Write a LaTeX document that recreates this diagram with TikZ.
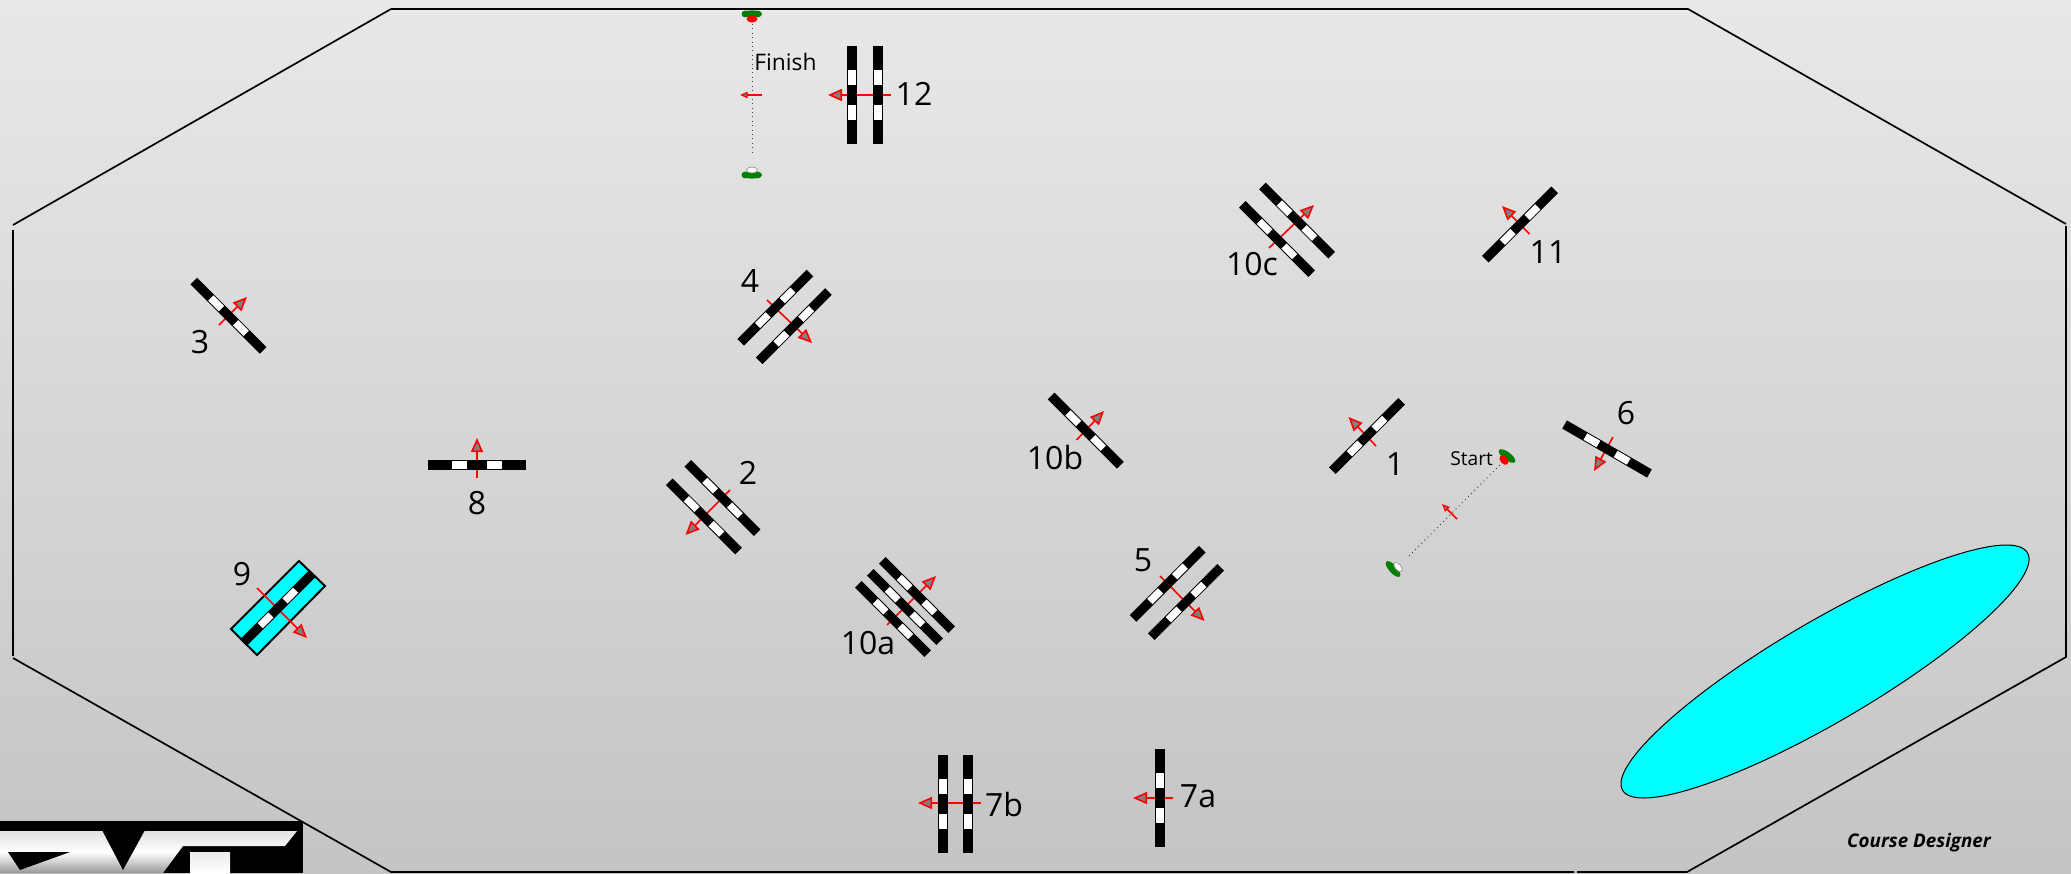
\documentclass[tikz,border=0pt]{standalone}
\usepackage{fontspec}
\setmainfont{Open Sans}
\usetikzlibrary{arrows.meta}
\definecolor{aquafill}{HTML}{00FFFF}
\definecolor{boatgreen}{HTML}{008000}
\definecolor{headgray}{HTML}{808080}
\tikzset{
  x=0.5pt,y=-0.5pt,
  course/.style={draw=black,line width=0.85pt},
  num/.style={inner sep=0pt,text=black,font=\fontsize{16}{19}\selectfont},
  dir/.style={draw=red,line width=0.8pt,-{Stealth[length=7pt,width=6pt,inset=0pt,fill=headgray,line width=0.8pt]}},
  smalldir/.style={draw=red,line width=0.8pt,-{Stealth[length=3.8pt,width=3.2pt,inset=0pt,fill=headgray,line width=0.6pt]}},
  dotline/.style={draw=black!75,line width=0.5pt,dash pattern=on 0.5pt off 1.7pt},
  gatebar/.pic={
    \fill[black] (-49,-4.7) rectangle (49,4.7);
    \fill[white] (-25,-3.7) rectangle (-10,3.7);
    \fill[white] (10,-3.7) rectangle (25,3.7);
  },
  hullblob/.style={fill=boatgreen,draw=none},
  redmark/.style={fill=red,draw=none},
  whitemark/.style={fill=white,draw=black!40,line width=0.4pt},
}
\begin{document}
\begin{tikzpicture}
\useasboundingbox (0,0) rectangle (2071,873);
\clip (0,0) rectangle (2071,873);
\shade[top color=black!9,bottom color=black!23] (0,0) rectangle (2071,873);

% course boundary
\draw[course] (391,9) -- (1688,9) -- (2066,224);
\draw[course] (2066,226) -- (2066,657) -- (1687,872) -- (1577,872);
\draw[course] (1574,872) -- (391,872) -- (13,658);
\draw[course] (13,656) -- (13,230);
\draw[course] (13,225) -- (391,9);

% logo
\fill[black] (0,821) rectangle (303,873);
\shade[top color=black!12,bottom color=black!40,middle color=white]
  (0,831) -- (297,831) -- (285,846) -- (183,846) -- (163,873) -- (0,873) -- cycle;
\fill[black] (102,830) -- (123,870) -- (145,830) -- cycle;
\fill[black] (8,852) -- (70,852) -- (20,870) -- cycle;
\shade[top color=black!8,bottom color=white] (190,852) -- (230,852) -- (230,873) -- (190,873) -- cycle;

% lake
\draw[black,line width=0.5pt,fill=aquafill,rotate around={30.4:(1825,671.5)}] (1825,671.5) ellipse [x radius=234.7,y radius=50.4];

% finish boats
\fill[hullblob] (752,14) ellipse [x radius=10,y radius=3.6];
\fill[hullblob] (745,14) circle [radius=3.4];
\fill[hullblob] (758,14) circle [radius=3.4];
\fill[redmark] (752,19) ellipse [x radius=5.5,y radius=3.5];
\coordinate (finishTop) at (752,24);
\fill[hullblob] (752,175) ellipse [x radius=10,y radius=3.6];
\fill[hullblob] (745,175) circle [radius=3.4];
\fill[hullblob] (758,175) circle [radius=3.4];
\filldraw[whitemark] (752,170) ellipse [x radius=5.5,y radius=3];
\coordinate (finishBot) at (752,155);
\draw[dotline] (finishTop) -- (finishBot);
\draw[smalldir] (762,95) -- (740,95);
\node (finishlabel) [inner sep=0pt,anchor=west,font=\fontsize{11.4}{14}\selectfont,text=black] at (754,62) {Finish};

% start boats
\fill[hullblob,rotate around={-37:(1507,456)}] (1507,456) ellipse [x radius=10,y radius=4];
\fill[redmark,rotate around={-50:(1504,460)}] (1504,460) ellipse [x radius=5.5,y radius=3.8];
\coordinate (startTop) at (1500,465);
\fill[hullblob,rotate around={-48:(1393,569)}] (1393,569) ellipse [x radius=10,y radius=4];
\filldraw[whitemark,rotate around={-50:(1398,567)}] (1398,567) ellipse [x radius=5.5,y radius=3];
\coordinate (startBot) at (1409,556);
\draw[dotline] (startBot) -- (startTop);
\draw[smalldir] (1457,519) -- (1442,504);
\node (startlabel) [inner sep=0pt,anchor=west,font=\fontsize{9.6}{12}\selectfont,text=black] at (1450,459) {Start};

% gate 3
\draw[dir] (219,325) -- (247,297);
\pic[rotate=-45] at (228.5,315.7) {gatebar};
\node (l3) [num] at (200,342) {3};
% gate 8
\draw[dir] (477,478) -- (477,438);
\pic at (477,465) {gatebar};
\node (l8) [num] at (477,503) {8};
% gate 9
\draw[black,line width=1pt,fill=aquafill] (299,561) -- (325,586) -- (257,655) -- (231,629) -- cycle;
\draw[dir] (257,588) -- (307,638);
\pic[rotate=45] at (278,608) {gatebar};
\node (l9) [num] at (242,574) {9};
% gate 4
\draw[dir] (767,300) -- (812,343);
\pic[rotate=45] at (775.3,307.7) {gatebar};
\pic[rotate=45] at (793.8,326.2) {gatebar};
\node (l4) [num] at (750,281) {4};
% gate 2
\draw[dir] (730,490) -- (685.5,535);
\pic[rotate=-45] at (722.5,498) {gatebar};
\pic[rotate=-45] at (704,516.4) {gatebar};
\node (l2) [num] at (748,473) {2};
% gate 10a
\draw[dir] (887,625) -- (936,576);
\pic[rotate=-45] at (917,595) {gatebar};
\pic[rotate=-45] at (905,607) {gatebar};
\pic[rotate=-45] at (893,619) {gatebar};
\node (l10a) [num] at (868,643) {10a};
% gate 10b
\draw[dir] (1076.5,440) -- (1104,411);
\pic[rotate=-45] at (1085.7,430.6) {gatebar};
\node (l10b) [num] at (1055,457) {10b};
% gate 10c
\draw[dir] (1269,248) -- (1314,205);
\pic[rotate=-45] at (1297,220.6) {gatebar};
\pic[rotate=-45] at (1277,239) {gatebar};
\node (l10c) [num] at (1252,264) {10c};
% gate 11
\draw[dir] (1529.5,234) -- (1502,206);
\pic[rotate=45] at (1520,224.5) {gatebar};
\node (l11) [num] at (1548,252) {11};
% gate 1
\draw[dir] (1376,446) -- (1348.5,417);
\pic[rotate=45] at (1367,436) {gatebar};
\node (l1) [num] at (1395,464) {1};
% gate 5
\draw[dir] (1160,576) -- (1204.6,621);
\pic[rotate=45] at (1167.6,583.8) {gatebar};
\pic[rotate=45] at (1186,602) {gatebar};
\node (l5) [num] at (1143,560) {5};
% gate 6
\draw[dir] (1613,437) -- (1594,471);
\pic[rotate=-30] at (1607,449) {gatebar};
\node (l6) [num] at (1626,413.5) {6};
% gate 7a
\draw[dir] (1173,798) -- (1133,798);
\pic[rotate=90] at (1160,798) {gatebar};
\node (l7a) [num] at (1198,796) {7a};
% gate 7b
\draw[dir] (981,803) -- (918,803);
\pic[rotate=90] at (943,804) {gatebar};
\pic[rotate=90] at (968,804) {gatebar};
\node (l7b) [num] at (1004,804) {7b};
% gate 12
\draw[dir] (891,95) -- (828,95);
\pic[rotate=90] at (852,95) {gatebar};
\pic[rotate=90] at (878,95) {gatebar};
\node (l12) [num] at (914,94) {12};

\node (designer) [inner sep=0pt,font=\fontsize{9.4}{12}\selectfont\bfseries\itshape,text=black] at (1919,843) {Course Designer};
\end{tikzpicture}
\end{document}
